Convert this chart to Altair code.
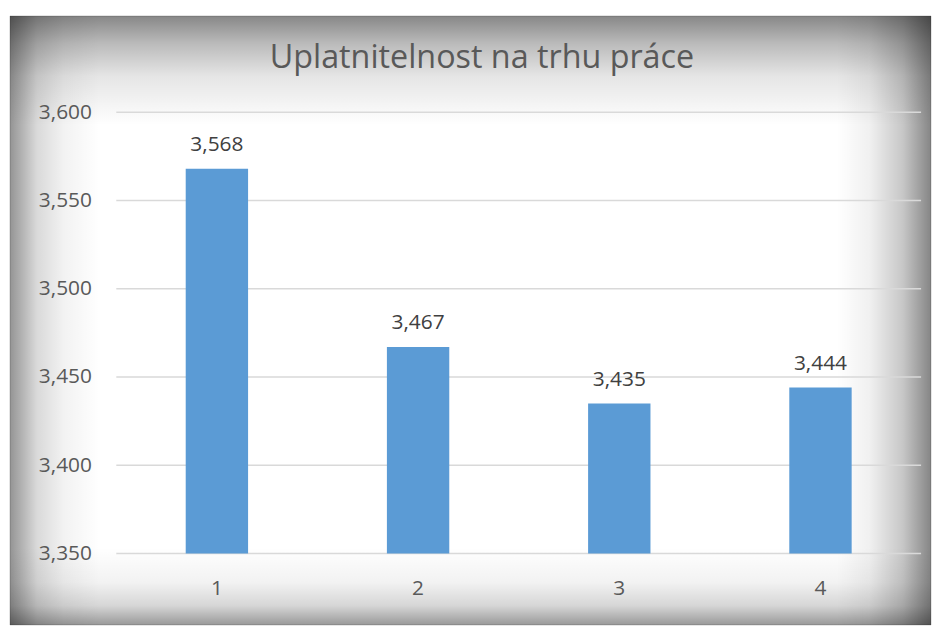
import altair as alt
import pandas as pd

categories = ["1", "2", "3", "4"]
values = [3.568, 3.467, 3.435, 3.444]
y_ticks = [3.35, 3.40, 3.45, 3.50, 3.55, 3.60]
title_text = "Uplatnitelnost na trhu práce"

W, H = 810, 444
FONT = "Open Sans"

df = pd.DataFrame({"cat": categories, "val": values})
ticks_df = pd.DataFrame({"t": y_ticks})

# frame extents relative to plot area
FX0, FX1, FY0, FY1 = -107, 820, -97, 516


def grad_rect(x0, x1, y0, y1, gx2, gy2, stops):
    g = alt.LinearGradient(
        gradient="linear",
        x1=0, y1=0, x2=gx2, y2=gy2,
        stops=[alt.GradientStop(offset=o, color=c) for o, c in stops],
    )
    return alt.Chart(alt.Data(values=[{}])).mark_rect(fill=g).encode(
        x=alt.value(x0), x2=alt.value(x1), y=alt.value(y0), y2=alt.value(y1)
    )


base_rect = alt.Chart(alt.Data(values=[{}])).mark_rect(
    fill="white", stroke="#cfcfcf", strokeWidth=1
).encode(x=alt.value(FX0), x2=alt.value(FX1), y=alt.value(FY0), y2=alt.value(FY1))

left = grad_rect(FX0, FX0 + 90, FY0, FY1, 1, 0,
                 [(0, "rgba(0,0,0,0.42)"), (0.3, "rgba(0,0,0,0.15)"), (0.6, "rgba(0,0,0,0.05)"), (1, "rgba(0,0,0,0)")])
right = grad_rect(FX1 - 95, FX1, FY0, FY1, 1, 0,
                  [(0, "rgba(0,0,0,0)"), (0.35, "rgba(0,0,0,0.06)"), (0.7, "rgba(0,0,0,0.22)"), (1, "rgba(0,0,0,0.48)")])
top = grad_rect(FX0, FX1, FY0, FY0 + 110, 0, 1,
                [(0, "rgba(0,0,0,0.47)"), (0.25, "rgba(0,0,0,0.27)"), (0.55, "rgba(0,0,0,0.1)"), (1, "rgba(0,0,0,0)")])
bottom = grad_rect(FX0, FX1, FY1 - 78, FY1, 0, 1,
                   [(0, "rgba(0,0,0,0)"), (0.45, "rgba(0,0,0,0.05)"), (0.75, "rgba(0,0,0,0.16)"), (1, "rgba(0,0,0,0.4)")])

yscale = alt.Scale(domain=[3.35, 3.6], nice=False, zero=False)

yaxis = alt.Axis(title=None, values=y_ticks, labelFont=FONT, labelFontSize=21,
                 labelColor="#595959", labelPadding=25, ticks=False, domain=False,
                 grid=False, zindex=1,
                 labelExpr="replace(format(datum.value, '.3f'), '.', ',')")

grid = alt.Chart(ticks_df).mark_rule(color="#d9d9d9", strokeWidth=1.5).encode(
    y=alt.Y("t:Q", scale=yscale, axis=yaxis),
    x=alt.value(0), x2=alt.value(W),
)

xenc = alt.X(
    "cat:N",
    sort=categories,
    scale=alt.Scale(paddingInner=0.69, paddingOuter=0.345),
    axis=alt.Axis(title=None, labelAngle=0, labelFont=FONT, labelFontSize=21,
                  labelColor="#595959", labelPadding=24, ticks=False, domain=False,
                  grid=False, zindex=1),
)

bars = alt.Chart(df).mark_bar(color="#5b9bd5").encode(
    x=xenc,
    y=alt.Y("val:Q", scale=yscale, axis=yaxis),
    y2=alt.datum(3.35),
)

labels = alt.Chart(df).transform_calculate(
    lab="replace(format(datum.val, '.3f'), '.', ',')"
).mark_text(font=FONT, fontSize=21, color="#404040", baseline="middle", dy=-24).encode(
    x=alt.X("cat:N", sort=categories),
    y=alt.Y("val:Q", scale=yscale),
    text="lab:N",
)

title = alt.Chart(alt.Data(values=[{"t": title_text}])).mark_text(
    font=FONT, fontSize=32.5, color="#595959", align="center", baseline="middle"
).encode(x=alt.value(368), y=alt.value(-55), text="t:N")

chart = alt.layer(base_rect, left, right, top, bottom, grid, bars, labels, title).properties(
    width=W, height=H,
    autosize=alt.AutoSizeParams(type="none"),
    padding={"left": 109, "top": 103, "right": 12, "bottom": 72},
).configure_view(stroke=None).configure(background="white")

chart.save("out.html", embed_options={"renderer": "svg", "actions": False})
